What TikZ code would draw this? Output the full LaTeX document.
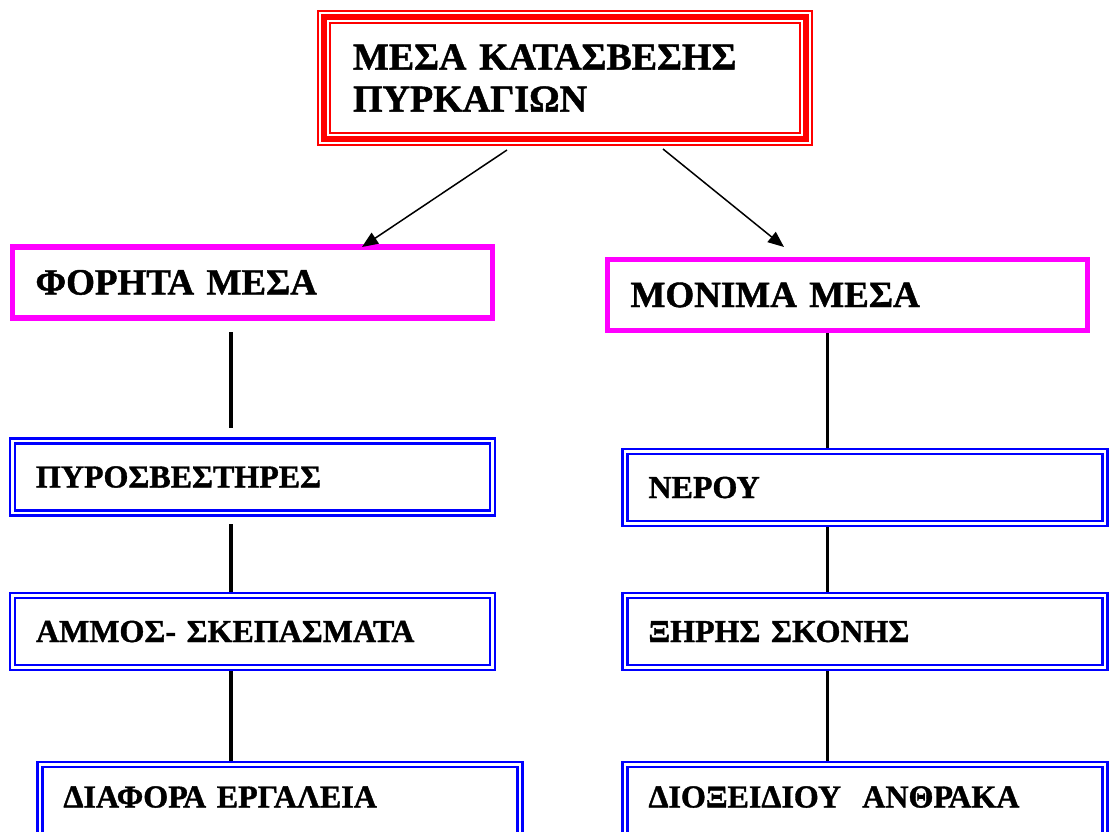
\documentclass[tikz,border=0pt]{standalone}
\usepackage{fontspec}
\setmainfont{Liberation Serif}[BoldFeatures={FakeBold=1.2}]
\usetikzlibrary{arrows.meta}
\begin{document}
\begin{tikzpicture}[x=1pt,y=-1pt,
  redbox/.style={rectangle, outer sep=0pt, draw=red, line width=14pt, fill=white,
    postaction={draw=white, line width=10pt},
    postaction={draw=red, line width=5.5pt},
    minimum width=482pt, minimum height=122pt, inner xsep=29pt, text width=424pt,
    align=left, font=\bfseries\fontsize{38}{42}\selectfont},
  magbox/.style={rectangle, outer sep=0pt, draw={rgb,255:red,255;green,0;blue,255}, line width=5.5pt, fill=white,
    minimum width=480pt, minimum height=71pt, inner xsep=23pt, text width=434pt,
    align=left, text height=24pt, text depth=0pt, font=\bfseries\fontsize{37}{41}\selectfont},
  bluebox/.style={rectangle, outer sep=0pt, draw=blue, line width=2.4pt, double=white, double distance=2.7pt, fill=white,
    minimum width=480pt, minimum height=72pt, inner xsep=23.5pt, text width=433pt,
    align=left, text height=21pt, text depth=0pt, font=\bfseries\fontsize{32}{36}\selectfont},
  arrowline/.style={line width=1.5pt, -{Triangle[length=16pt,width=13pt]}},
  vline/.style={line width=3.8pt}
]
\useasboundingbox (0,0) rectangle (1109,832);
\clip (0,0) rectangle (1109,832);

\coordinate (lx) at (231,0);
\coordinate (rx) at (827.5,0);

\node[redbox] (top) at (565,78) {ΜΕΣΑ ΚΑΤΑΣΒΕΣΗΣ\\ΠΥΡΚΑΓΙΩΝ};

\node[magbox] (fm) at (252.5,282.5) {ΦΟΡΗΤΑ ΜΕΣΑ};
\node[magbox] (mm) at (847.5,295) {ΜΟΝΙΜΑ ΜΕΣΑ};

\node[bluebox] (pyr) at (252.5,477) {ΠΥΡΟΣΒΕΣΤΗΡΕΣ};
\node[bluebox] (amm) at (252.5,631.5) {ΑΜΜΟΣ- ΣΚΕΠΑΣΜΑΤΑ};
\node[bluebox, text depth=7pt] (dia) at (280,800.5) {ΔΙΑΦΟΡΑ ΕΡΓΑΛΕΙΑ};
\node[bluebox] (ner) at (865,487.5) {ΝΕΡΟΥ};
\node[bluebox] (xir) at (865,631.5) {ΞΗΡΗΣ ΣΚΟΝΗΣ};
\node[bluebox, text depth=7pt] (dio) at (865,800.5) {ΔΙΟΞΕΙΔΙΟΥ\ \ ΑΝΘΡΑΚΑ};

\draw[arrowline] ([xshift=-58pt,yshift=-11pt]top.south) -- ([xshift=109.5pt]fm.north);
\draw[arrowline] ([xshift=98pt,yshift=-10pt]top.south) -- ([xshift=-63.5pt,yshift=12.5pt]mm.north);

\draw[vline] ([yshift=-14pt]fm.south -| lx) -- ([yshift=13pt]pyr.north -| lx);
\draw[vline] ([yshift=-11pt]pyr.south -| lx) -- ([yshift=3.75pt]amm.north -| lx);
\draw[vline] ([yshift=-3.75pt]amm.south -| lx) -- ([yshift=3.75pt]dia.north -| lx);

\draw[vline] ([yshift=-2.65pt]mm.south -| rx) -- ([yshift=3.75pt]ner.north -| rx);
\draw[vline] ([yshift=-3.75pt]ner.south -| rx) -- ([yshift=3.75pt]xir.north -| rx);
\draw[vline] ([yshift=-3.75pt]xir.south -| rx) -- ([yshift=3.75pt]dio.north -| rx);
\end{tikzpicture}
\end{document}
